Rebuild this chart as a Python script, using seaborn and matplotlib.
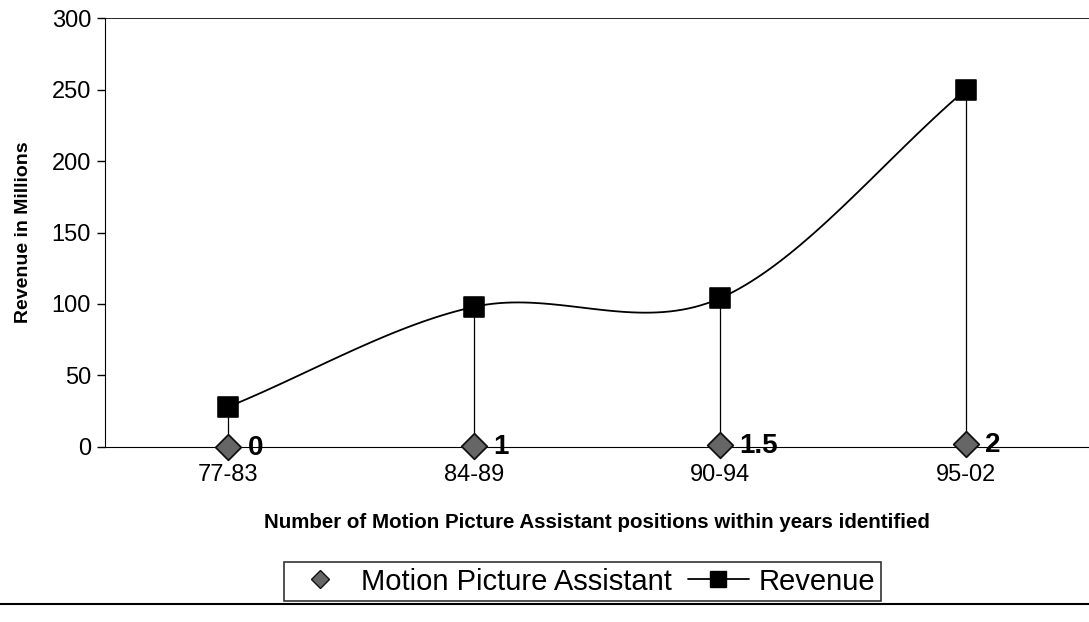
import numpy as np
import pandas as pd
import seaborn as sns
import matplotlib.pyplot as plt
from matplotlib.lines import Line2D

# data
periods = ['77-83', '84-89', '90-94', '95-02']
revenue = [28, 98, 104, 250]
assistants = [0, 1, 1.5, 2]
assistant_labels = ['0', '1', '1.5', '2']

df = pd.DataFrame({'x': np.arange(len(periods)), 'period': periods,
                   'revenue': revenue, 'assistants': assistants})

sns.set_style('white')
plt.rcParams['font.family'] = ['Liberation Sans', 'DejaVu Sans']
plt.rcParams['text.color'] = 'black'
plt.rcParams['axes.labelcolor'] = 'black'
plt.rcParams['xtick.color'] = 'black'
plt.rcParams['ytick.color'] = 'black'

fig = plt.figure(figsize=(10.89, 6.22), dpi=100)
ax = fig.add_axes([0.0964, 0.2814, 0.9036, 0.6896])


# smooth line through the revenue points (Catmull-Rom, like Excel's smoothed line)
def smooth(xs, ys, n=40):
    xs = np.asarray(xs, float)
    ys = np.asarray(ys, float)
    px = np.concatenate([[2 * xs[0] - xs[1]], xs, [2 * xs[-1] - xs[-2]]])
    py = np.concatenate([[2 * ys[0] - ys[1]], ys, [2 * ys[-1] - ys[-2]]])
    out_x, out_y = [], []
    t = np.linspace(0, 1, n)
    for i in range(1, len(px) - 2):
        for p, out in ((px, out_x), (py, out_y)):
            p0, p1, p2, p3 = p[i - 1], p[i], p[i + 1], p[i + 2]
            out.extend(0.5 * ((2 * p1) + (-p0 + p2) * t
                              + (2 * p0 - 5 * p1 + 4 * p2 - p3) * t ** 2
                              + (-p0 + 3 * p1 - 3 * p2 + p3) * t ** 3))
    return out_x, out_y


sx, sy = smooth(df['x'], df['revenue'])
ax.plot(sx, sy, color='black', lw=1.3, zorder=3)

# drop lines
ax.vlines(df['x'], 0, df['revenue'], color='black', lw=0.9, zorder=2)

sns.scatterplot(data=df, x='x', y='revenue', marker='s', s=210, color='black',
                edgecolor='black', ax=ax, zorder=4, clip_on=False)
sns.scatterplot(data=df, x='x', y='assistants', marker='D', s=170, color='#666666',
                edgecolor='#111111', linewidth=1.3, ax=ax, zorder=5, clip_on=False)

for xi, yi, lab in zip(df['x'], df['assistants'], assistant_labels):
    ax.annotate(lab, (xi, yi), xytext=(14, -1), textcoords='offset points',
                ha='left', va='center', fontsize=20, fontweight='bold',
                annotation_clip=False)

ax.set_xlim(-0.5, 3.5)
ax.set_ylim(0, 300)
ax.set_yticks(range(0, 301, 50))
ax.set_xticks(df['x'])
ax.set_xticklabels(periods)
ax.set_xticks([0.5, 1.5, 2.5], minor=True)
ax.tick_params(axis='x', which='major', length=0, pad=12, labelsize=17)
ax.tick_params(axis='x', which='minor', length=5, width=1, color='black', direction='inout')
ax.tick_params(axis='y', length=6, width=1, color='black', labelsize=17, direction='out',
               left=True, pad=4)

ax.axhline(300, color='black', lw=1.2)
for side in ['top', 'right']:
    ax.spines[side].set_visible(False)
ax.spines['left'].set_color('black')
ax.spines['bottom'].set_color('black')

ax.set_xlabel('Number of Motion Picture Assistant positions within years identified',
              fontsize=14.8, fontweight='bold', labelpad=20)
ax.set_ylabel('Revenue in Millions', fontsize=14, fontweight='bold', labelpad=14)

handles = [
    Line2D([], [], marker='D', color='none', markerfacecolor='#666666',
           markeredgecolor='#111111', markersize=9, label='Motion Picture Assistant'),
    Line2D([], [], marker='s', color='black', lw=1.3, markersize=11, label='Revenue'),
]
leg = fig.legend(handles=handles, loc='center', bbox_to_anchor=(0.5349, 0.065), ncol=2,
                 fontsize=21, frameon=True, fancybox=False, edgecolor='black',
                 handlelength=2.1, columnspacing=0.55, handletextpad=0.33,
                 borderpad=0.2, borderaxespad=0)
leg.get_frame().set_linewidth(1.2)

# bottom border of the chart area
fig.add_artist(Line2D([0, 1], [0.029, 0.029], color='black', lw=1.5,
                      transform=fig.transFigure))

fig.savefig('out.png', dpi=100)
